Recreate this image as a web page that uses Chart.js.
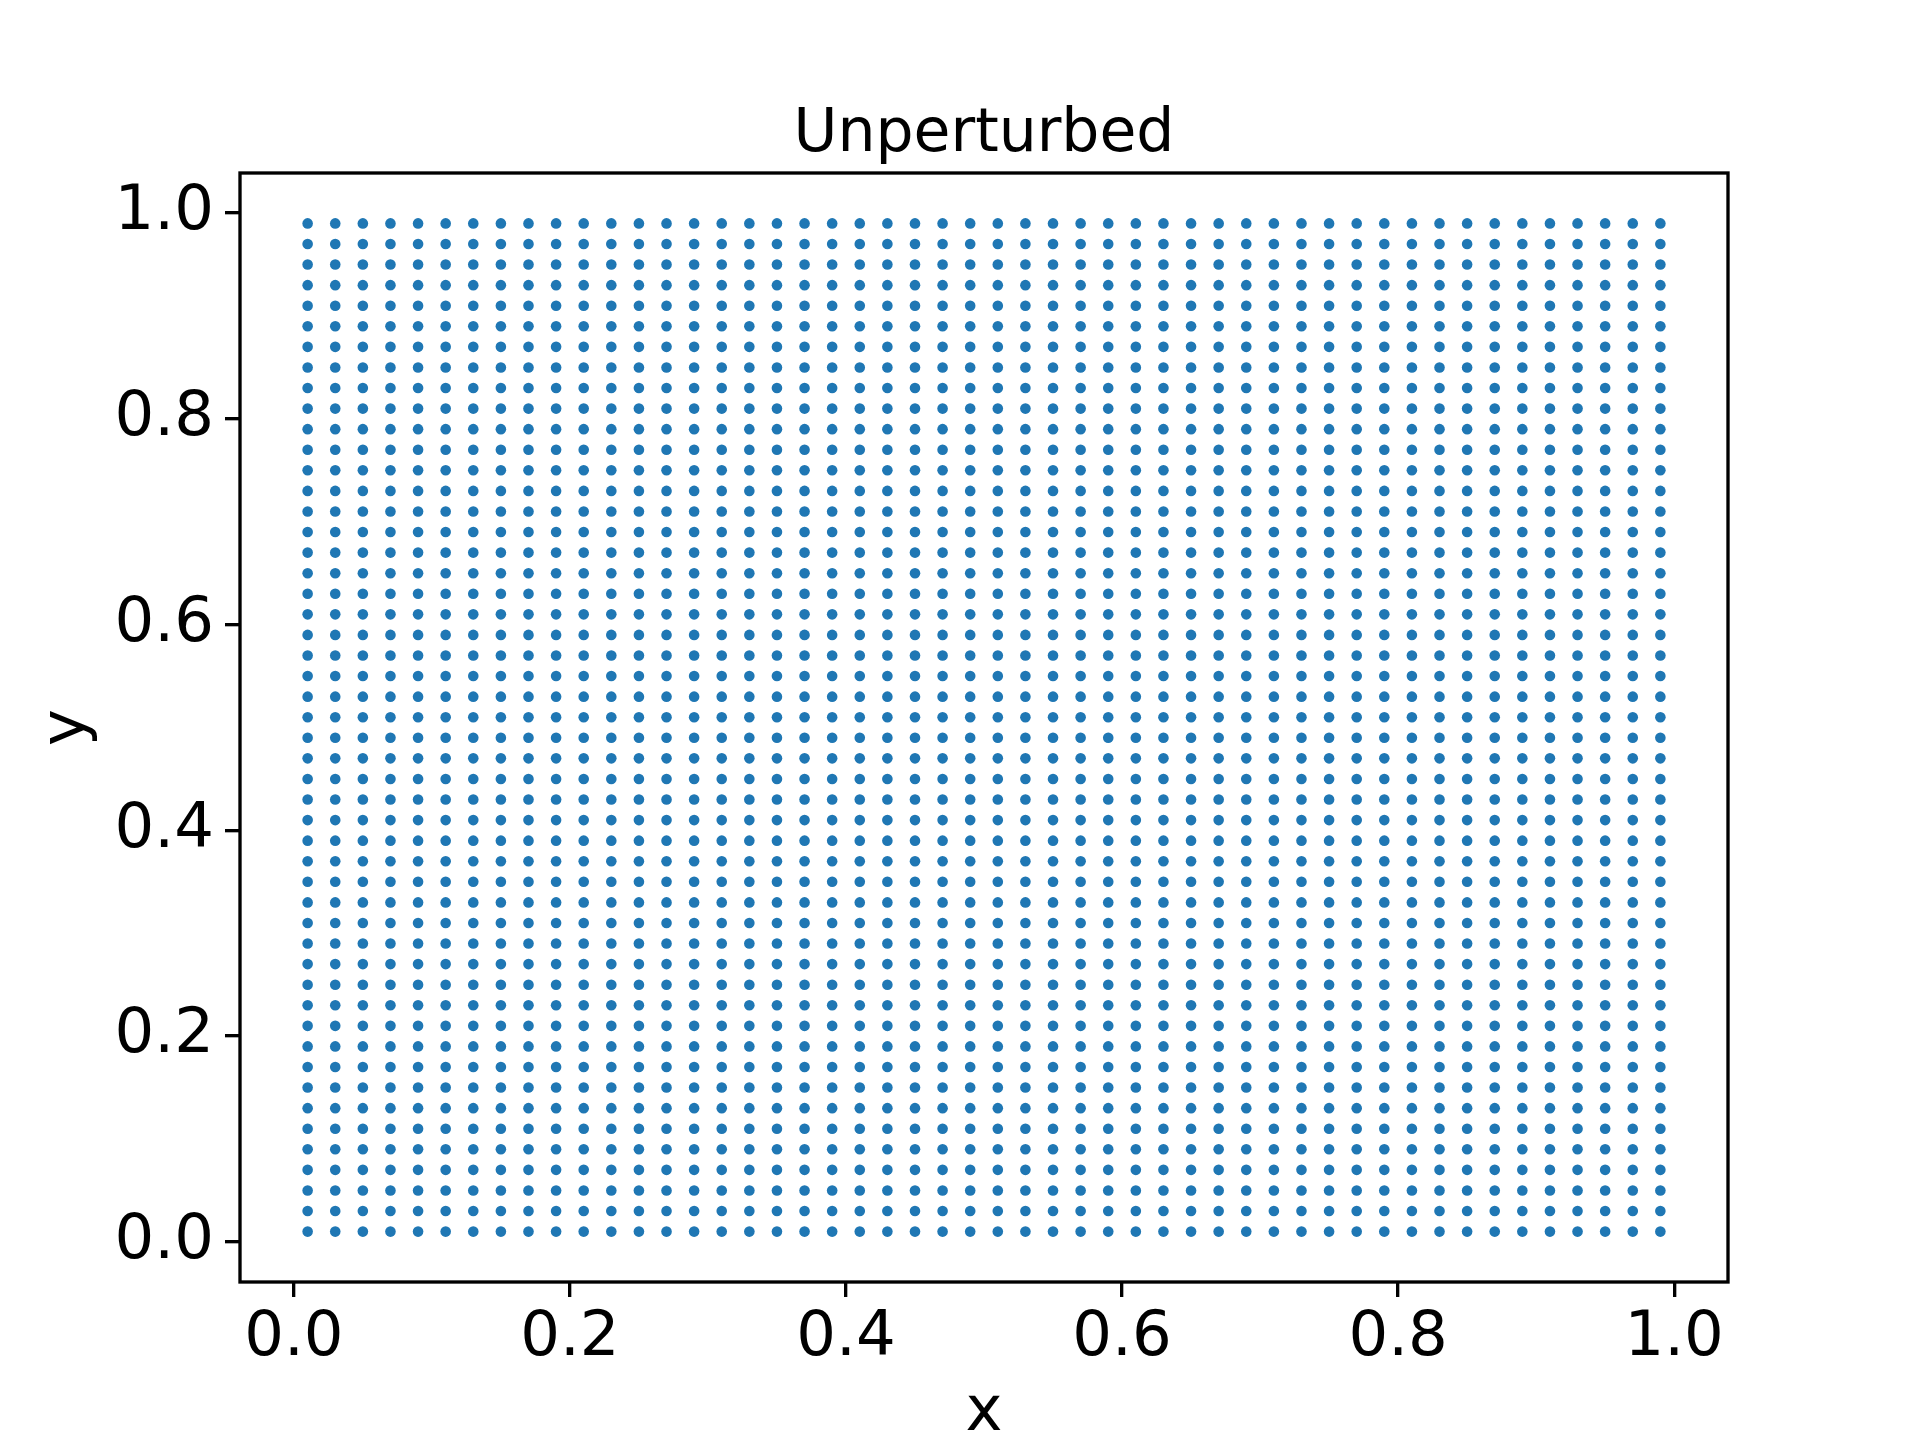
<!DOCTYPE html>
<html>
<head>
<meta charset="utf-8">
<title>Unperturbed</title>
<script src="https://cdn.jsdelivr.net/npm/chart.js@4.4.1/dist/chart.umd.min.js"></script>
<style>
    body { margin: 0; background: #ffffff; }
    canvas { display: block; }
</style>
</head>
<body>
<canvas id="gridChart" width="1920" height="1440"></canvas>
<script>
// grid coordinates of the unperturbed points (50 x 50)
const xValues = [0.01, 0.03, 0.05, 0.07, 0.09, 0.11, 0.13, 0.15, 0.17, 0.19,
                 0.21, 0.23, 0.25, 0.27, 0.29, 0.31, 0.33, 0.35, 0.37, 0.39,
                 0.41, 0.43, 0.45, 0.47, 0.49, 0.51, 0.53, 0.55, 0.57, 0.59,
                 0.61, 0.63, 0.65, 0.67, 0.69, 0.71, 0.73, 0.75, 0.77, 0.79,
                 0.81, 0.83, 0.85, 0.87, 0.89, 0.91, 0.93, 0.95, 0.97, 0.99];
const yValues = [0.01, 0.03, 0.05, 0.07, 0.09, 0.11, 0.13, 0.15, 0.17, 0.19,
                 0.21, 0.23, 0.25, 0.27, 0.29, 0.31, 0.33, 0.35, 0.37, 0.39,
                 0.41, 0.43, 0.45, 0.47, 0.49, 0.51, 0.53, 0.55, 0.57, 0.59,
                 0.61, 0.63, 0.65, 0.67, 0.69, 0.71, 0.73, 0.75, 0.77, 0.79,
                 0.81, 0.83, 0.85, 0.87, 0.89, 0.91, 0.93, 0.95, 0.97, 0.99];

const xTicks = [0.0, 0.2, 0.4, 0.6, 0.8, 1.0];
const yTicks = [0.0, 0.2, 0.4, 0.6, 0.8, 1.0];
const xTickLabels = ['0.0', '0.2', '0.4', '0.6', '0.8', '1.0'];
const yTickLabels = ['0.0', '0.2', '0.4', '0.6', '0.8', '1.0'];

const xRange = [-0.039, 1.039];
const yRange = [-0.039, 1.039];

const FONT = 'DejaVu Sans';
const FONT_SIZE = 62.5;
const TITLE_SIZE = 60;
const LINE = 3.33;

let points = [];
for (let x of xValues) {
    for (let y of yValues) {
        points.push({ x: x, y: y });
    }
}

// top/right spines like a matplotlib frame
const framePlugin = {
    id: 'frame',
    afterDraw(chart) {
        const { ctx, chartArea } = chart;
        ctx.save();
        ctx.strokeStyle = '#000000';
        ctx.lineWidth = LINE;
        ctx.lineJoin = 'miter';
        ctx.strokeRect(chartArea.left, chartArea.top,
                       chartArea.right - chartArea.left, chartArea.bottom - chartArea.top);
        ctx.restore();
    }
};

function axisOptions(range, ticks, labels, titleText, isX) {
    return {
        type: 'linear',
        position: isX ? 'bottom' : 'left',
        min: range[0],
        max: range[1],
        afterBuildTicks: axis => {
            axis.ticks = ticks.map(v => ({ value: v }));
        },
        afterFit: scale => {
            if (isX) scale.height = 158;
            else scale.width = 240;
        },
        ticks: {
            color: '#000000',
            font: { family: FONT, size: FONT_SIZE, lineHeight: 1.2 },
            padding: isX ? 4 : 11,
            maxRotation: 0,
            autoSkip: false,
            callback: (value) => {
                const i = ticks.indexOf(value);
                return i >= 0 ? labels[i] : '';
            }
        },
        grid: {
            display: true,
            drawOnChartArea: false,
            drawTicks: true,
            tickLength: 15,
            lineWidth: LINE,
            tickWidth: LINE,
            tickColor: '#000000',
            color: '#000000'
        },
        border: { display: false },
        title: {
            display: true,
            text: titleText,
            color: '#000000',
            font: { family: FONT, size: FONT_SIZE, lineHeight: 1 },
            padding: isX ? { top: 0, bottom: -5 } : { top: 37, bottom: 0 }
        }
    };
}

const ctx = document.getElementById('gridChart').getContext('2d');
const chart = new Chart(ctx, {
    type: 'scatter',
    data: {
        datasets: [{
            label: 'points',
            data: points,
            backgroundColor: '#1f77b4',
            borderWidth: 0,
            pointRadius: 5.3,
            pointHoverRadius: 5.3
        }]
    },
    options: {
        responsive: false,
        animation: false,
        devicePixelRatio: 1,
        layout: { padding: { left: 0, right: 192, top: 0, bottom: 0 } },
        plugins: {
            legend: { display: false },
            tooltip: { enabled: false },
            title: {
                display: true,
                fullSize: false,
                text: 'Unperturbed',
                color: '#000000',
                font: { family: FONT, size: TITLE_SIZE, weight: 'normal', lineHeight: 1.2 },
                padding: { top: 99, bottom: 2 }
            }
        },
        scales: {
            x: axisOptions(xRange, xTicks, xTickLabels, 'x', true),
            y: axisOptions(yRange, yTicks, yTickLabels, 'y', false)
        }
    },
    plugins: [framePlugin]
});
</script>
</body>
</html>
